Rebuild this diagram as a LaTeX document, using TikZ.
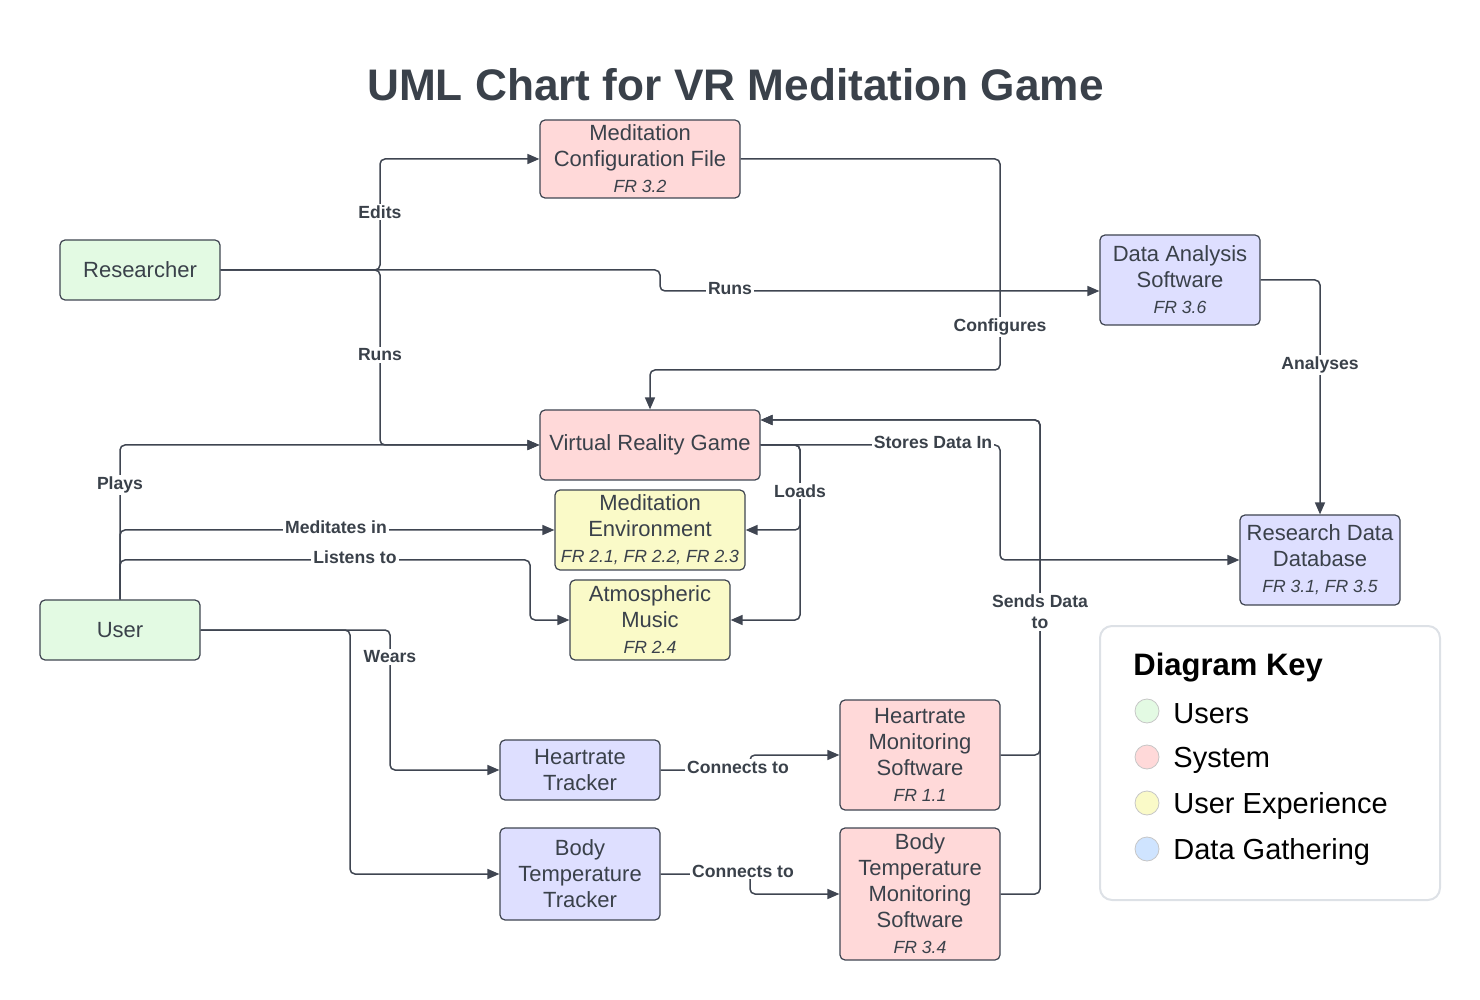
\documentclass[tikz,border=0pt]{standalone}
\usepackage{fontspec}
\setmainfont{Liberation Sans}
\usetikzlibrary{arrows.meta}
\definecolor{ink}{HTML}{3A414A}
\definecolor{edgec}{HTML}{3F4551}
\definecolor{gfill}{HTML}{E3FAE3}
\definecolor{pfill}{HTML}{FFD9D9}
\definecolor{yfill}{HTML}{FAFAC8}
\definecolor{bfill}{HTML}{DEDFFF}
\definecolor{lblue}{HTML}{CFE4FF}
\definecolor{keyborder}{HTML}{DDE1E6}
\newcommand\frtag[1]{{\itshape\fontsize{8.8}{10}\selectfont #1}}
\begin{document}
\begin{tikzpicture}[x=0.5pt,y=-0.5pt,
  box/.style={draw=edgec, line width=0.6pt, rounded corners=2.5pt, align=center, text=ink, inner sep=0pt, font=\fontsize{11}{13}\selectfont},
  conn/.style={draw=edgec, line width=0.75pt, rounded corners=2.5pt, -{Triangle[length=6pt,width=5pt]}},
  lab/.style={fill=white, inner sep=1pt, text=ink, font=\bfseries\fontsize{8.8}{10.5}\selectfont, align=center},
  keydot/.style={circle, draw=gray!45, line width=0.4pt, minimum size=12pt, inner sep=0pt},
  keytxt/.style={anchor=west, inner sep=0pt, text=black, font=\fontsize{14.5}{17}\selectfont}
]
\useasboundingbox (0,0) rectangle (1480,1000);

% title
\node[anchor=base, text=ink, font=\bfseries\fontsize{22.1}{26}\selectfont] (title) at (735.5,101) {UML Chart for VR Meditation Game};

% boxes
\node[box, fill=pfill, minimum width=100pt, minimum height=39pt] (cfg) at (640,159) {Meditation\\Configuration File\\\frtag{FR 3.2}};
\node[box, fill=gfill, minimum width=80pt, minimum height=30pt] (res) at (140,270) {Researcher};
\node[box, fill=bfill, minimum width=80pt, minimum height=45pt] (das) at (1180,280) {Data Analysis\\Software\\\frtag{FR 3.6}};
\node[box, fill=pfill, minimum width=110pt, minimum height=35pt] (vr) at (650,445) {Virtual Reality Game};
\node[box, fill=yfill, minimum width=95pt, minimum height=40pt] (env) at (650,530) {Meditation\\Environment\\\frtag{FR 2.1, FR 2.2, FR 2.3}};
\node[box, fill=yfill, minimum width=80pt, minimum height=40pt] (mus) at (650,620) {Atmospheric\\Music\\\frtag{FR 2.4}};
\node[box, fill=bfill, minimum width=80pt, minimum height=45pt] (db) at (1320,560) {Research Data\\Database\\\frtag{FR 3.1, FR 3.5}};
\node[box, fill=gfill, minimum width=80pt, minimum height=30pt] (usr) at (120,630) {User};
\node[box, fill=bfill, minimum width=80pt, minimum height=30pt] (hrt) at (580,770) {Heartrate\\Tracker};
\node[box, fill=bfill, minimum width=80pt, minimum height=46pt] (btt) at (580,874) {Body\\Temperature\\Tracker};
\node[box, fill=pfill, minimum width=80pt, minimum height=55pt] (hrm) at (920,755) {Heartrate\\Monitoring\\Software\\\frtag{FR 1.1}};
\node[box, fill=pfill, minimum width=80pt, minimum height=66pt] (btm) at (920,894) {Body\\Temperature\\Monitoring\\Software\\\frtag{FR 3.4}};

% connectors
\draw[conn] (res.east) -- (380,270) -- (380,159) -- (cfg.west);
\draw[conn] (res.east) -- (380,270) -- (380,445) -- (vr.west);
\draw[conn] (res.east) -- (660,270) -- (660,291) -- ([yshift=-5.5pt]das.west);
\draw[conn] (cfg.east) -- (1000,159) -- (1000,370) -- (650,370) -- (vr.north);
\draw[conn] (das.east) -- (1320,280) -- (db.north);
\draw[conn] (vr.east) -- (1000,445) -- (1000,560) -- (db.west);
\draw[conn] (vr.east) -- (800,445) -- (800,530) -- (env.east);
\draw[conn] (vr.east) -- (800,445) -- (800,620) -- (mus.east);
\draw[conn] (usr.north) -- (120,445) -- (vr.west);
\draw[conn] (usr.north) -- (120,530) -- (env.west);
\draw[conn] (usr.north) -- (120,560) -- (530,560) -- (530,620) -- (mus.west);
\draw[conn] (usr.east) -- (390,630) -- (390,770) -- (hrt.west);
\draw[conn] (usr.east) -- (350,630) -- (350,874) -- (btt.west);
\draw[conn] (hrt.east) -- (750,770) -- (750,755) -- (hrm.west);
\draw[conn] (btt.east) -- (750,874) -- (750,894) -- (btm.west);
\draw[conn] (hrm.east) -- (1040,755) -- (1040,420) -- ([yshift=12.5pt]vr.east);
\draw[conn] (btm.east) -- (1040,894) -- (1040,420) -- ([yshift=12.5pt]vr.east);

% labels
\node[lab] (l1) at (380,212) {Edits};
\node[lab] (l2) at (380,355) {Runs};
\node[lab] (l3) at (730,289) {Runs};
\node[lab] (l4) at (1000,327) {Configures};
\node[lab] (l5) at (1320,365) {Analyses};
\node[lab] (l6) at (933,442) {Stores Data In};
\node[lab] (l7) at (800,491) {Loads};
\node[lab] (l8) at (120,485) {Plays};
\node[lab] (l9) at (336,527) {Meditates in};
\node[lab] (l10) at (355,557) {Listens to};
\node[lab] (l11) at (390,657) {Wears};
\node[lab] (l12) at (738,767) {Connects to};
\node[lab] (l13) at (743,871) {Connects to};
\node[lab] (l14) at (1040,612) {Sends Data\\to};

% key
\node[draw=keyborder, line width=1pt, rounded corners=6pt, minimum width=170pt, minimum height=137pt, inner sep=0pt] (key) at (1270,763) {};
\node[anchor=west, inner sep=0pt, text=black, font=\bfseries\fontsize{15.5}{18}\selectfont] (keyt) at (1133,668) {Diagram Key};
\node[keydot, fill=gfill] (k1) at (1147,711) {};
\node[keydot, fill=pfill] (k2) at (1147,757) {};
\node[keydot, fill=yfill] (k3) at (1147,803) {};
\node[keydot, fill=lblue] (k4) at (1147,849) {};
\node[keytxt] (t1) at (1173,714) {Users};
\node[keytxt] (t2) at (1173,760) {System};
\node[keytxt] (t3) at (1173,806) {User Experience};
\node[keytxt] (t4) at (1173,852) {Data Gathering};
\end{tikzpicture}
\end{document}
